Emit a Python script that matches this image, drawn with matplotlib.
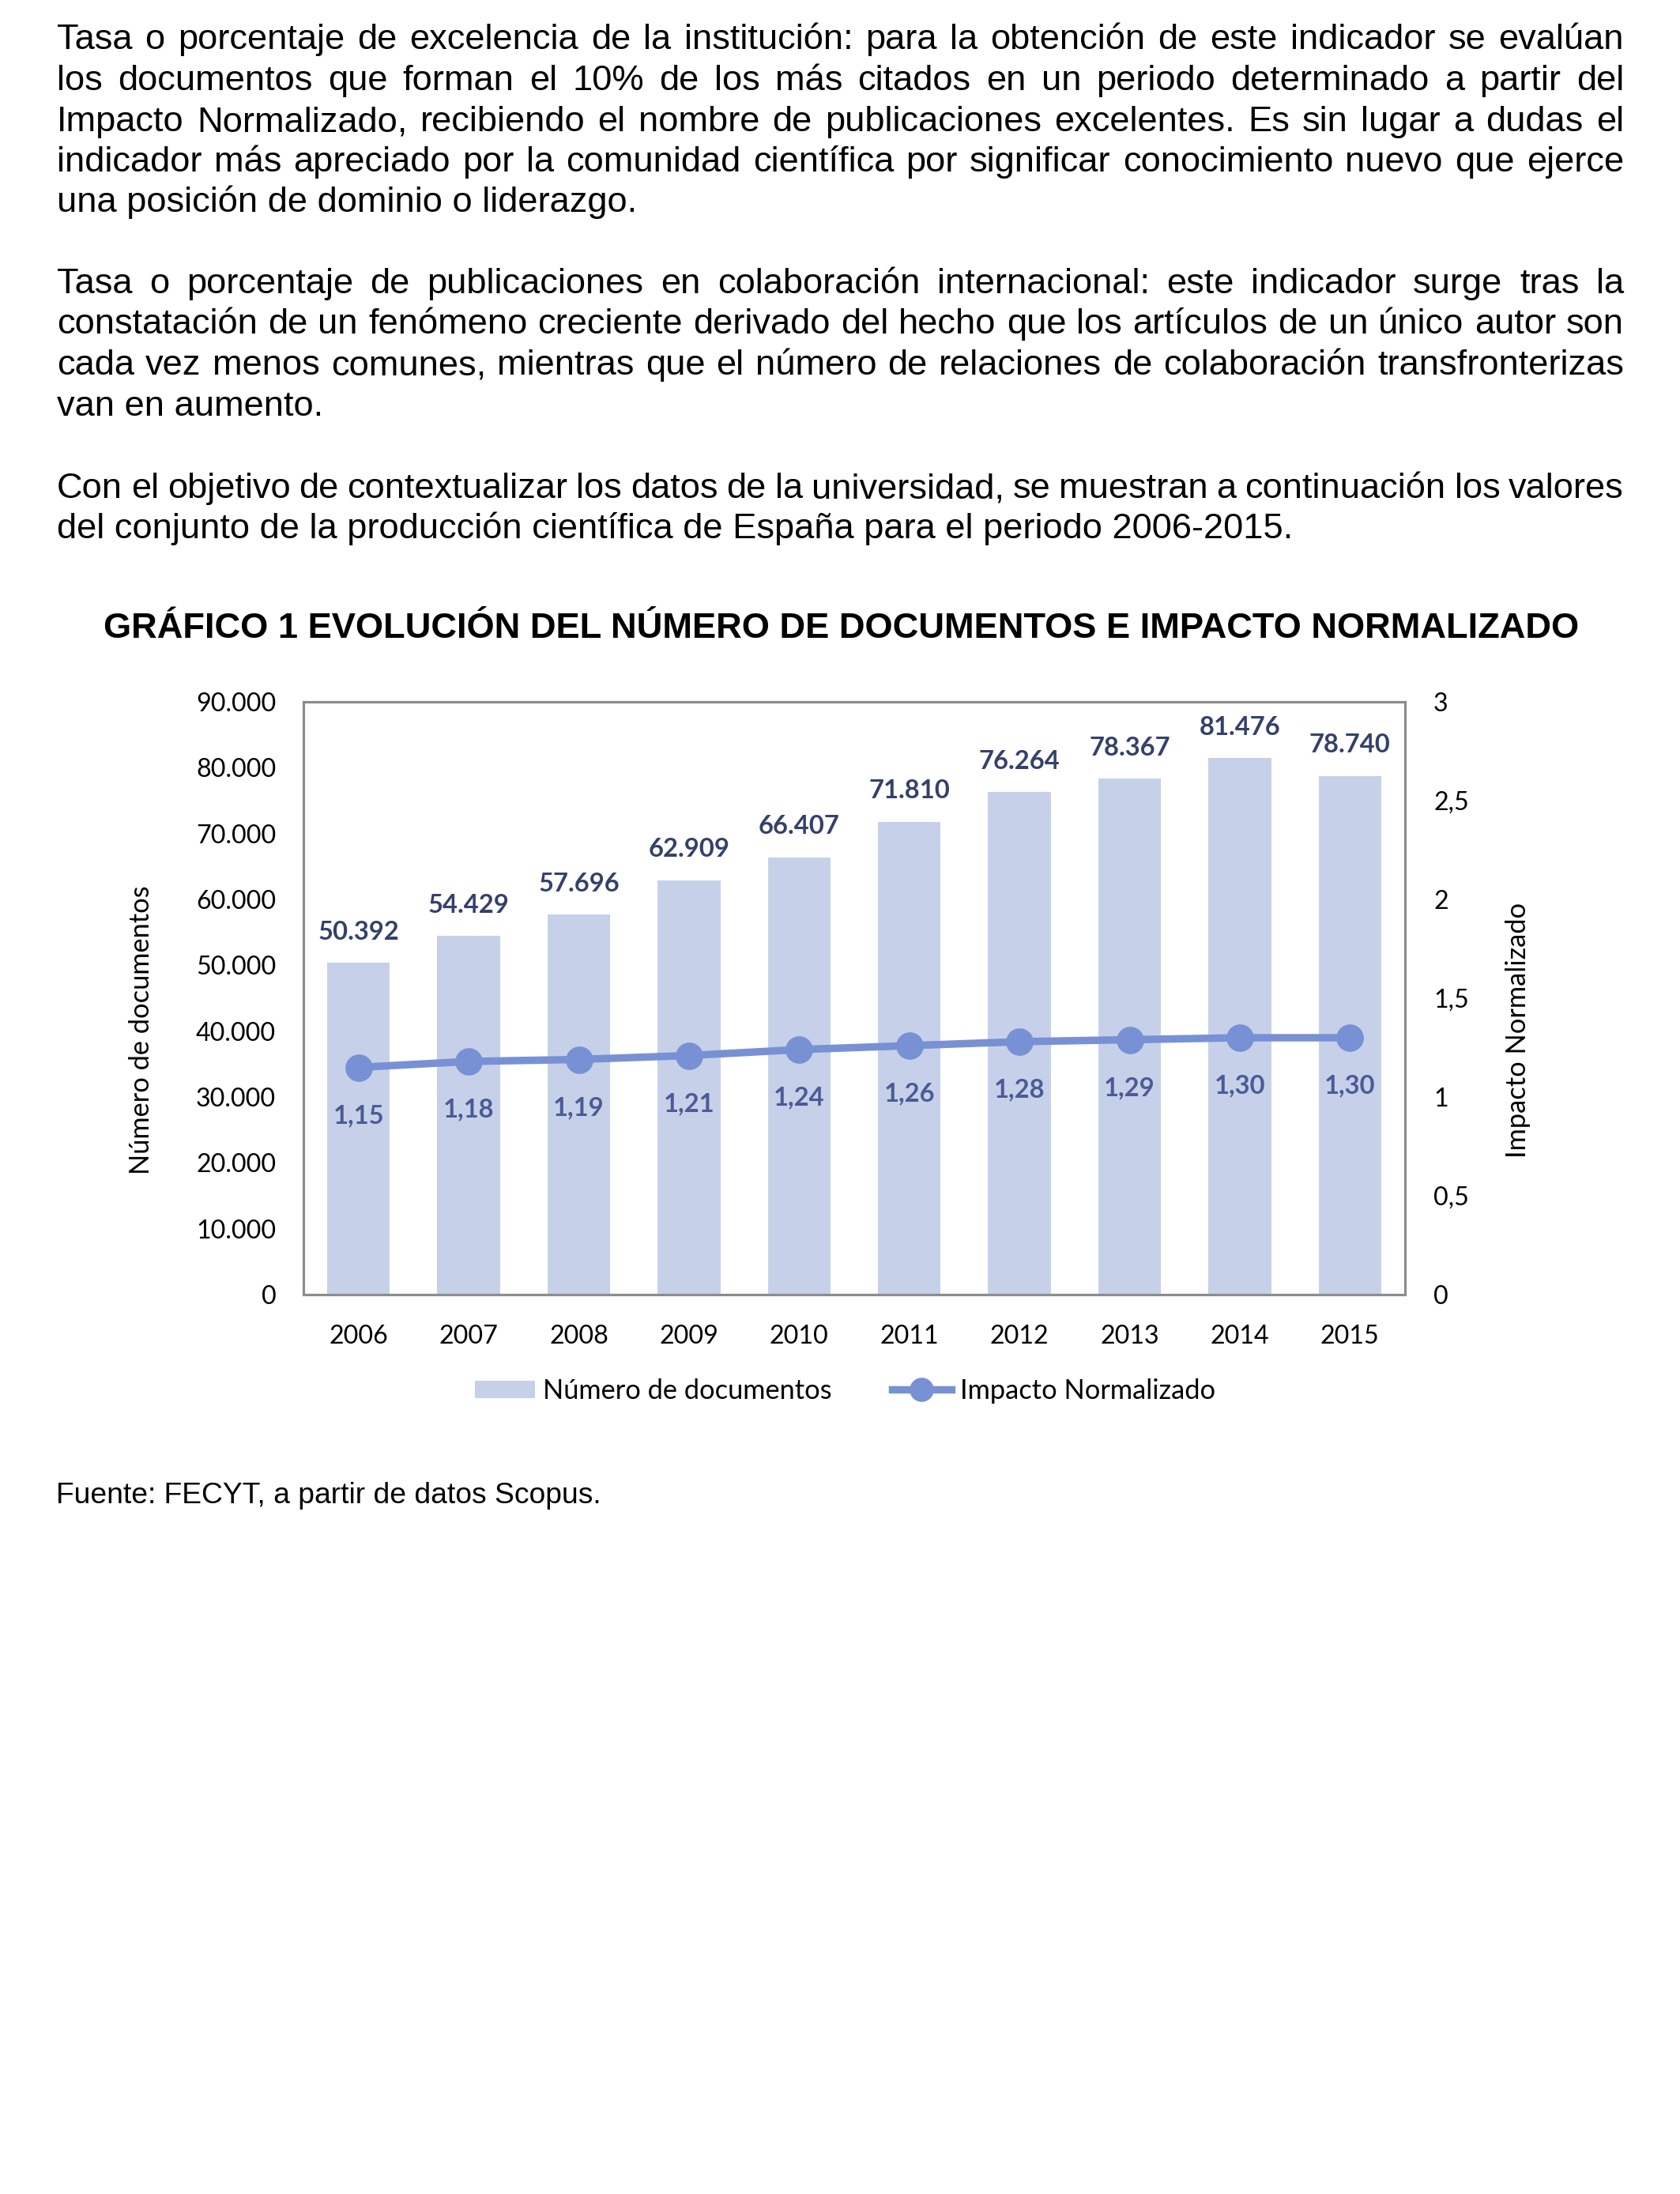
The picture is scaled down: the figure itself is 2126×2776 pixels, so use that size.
import numpy as np
import matplotlib
matplotlib.use("Agg")
import matplotlib.pyplot as plt
from matplotlib.lines import Line2D
from matplotlib.patches import Patch
from matplotlib.ticker import FixedLocator, FuncFormatter

# ---------------------------------------------------------------------------
# Data
# ---------------------------------------------------------------------------
years = ["2006", "2007", "2008", "2009", "2010", "2011", "2012", "2013", "2014", "2015"]
n_documentos = [50392, 54429, 57696, 62909, 66407, 71810, 76264, 78367, 81476, 78740]
impacto = [1.15, 1.18, 1.19, 1.21, 1.24, 1.26, 1.28, 1.29, 1.30, 1.30]

left_ticks = [0, 10000, 20000, 30000, 40000, 50000, 60000, 70000, 80000, 90000]
right_ticks = [0, 0.5, 1, 1.5, 2, 2.5, 3]

paragraphs = [
    ["Tasa o porcentaje de excelencia de la institución: para la obtención de este indicador se evalúan",
     "los documentos que forman el 10% de los más citados en un periodo determinado a partir del",
     "Impacto Normalizado, recibiendo el nombre de publicaciones excelentes. Es sin lugar a dudas el",
     "indicador más apreciado por la comunidad científica por significar conocimiento nuevo que ejerce",
     "una posición de dominio o liderazgo."],
    ["Tasa o porcentaje de publicaciones en colaboración internacional: este indicador surge tras la",
     "constatación de un fenómeno creciente derivado del hecho que los artículos de un único autor son",
     "cada vez menos comunes, mientras que el número de relaciones de colaboración transfronterizas",
     "van en aumento."],
    ["Con el objetivo de contextualizar los datos de la universidad, se muestran a continuación los valores",
     "del conjunto de la producción científica de España para el periodo 2006-2015."],
]
title = "GRÁFICO 1 EVOLUCIÓN DEL NÚMERO DE DOCUMENTOS E IMPACTO NORMALIZADO"
source = "Fuente: FECYT, a partir de datos Scopus."

# ---------------------------------------------------------------------------
# Styling
# ---------------------------------------------------------------------------
W, H, DPI = 2126, 2776, 200
BAR_COLOR = "#C6D1E9"
LINE_COLOR = "#7891D4"
BAR_LABEL_COLOR = "#34416A"
LINE_LABEL_COLOR = "#4B5B95"
FRAME_COLOR = "#8C8C8C"
BODY_FONT = "Liberation Sans"
CHART_FONT = "Lato"
BODY_SIZE = 16.3

fig = plt.figure(figsize=(W / DPI, H / DPI), dpi=DPI)
renderer = fig.canvas.get_renderer()


def px_x(x):
    return x / W


def px_y(y):
    return 1 - y / H


def text_width(s, **kw):
    t = fig.text(0, 0, s, **kw)
    w = t.get_window_extent(renderer).width
    t.remove()
    return w


def justified_line(line, x0, x1, y, last=False, **kw):
    if last:
        fig.text(px_x(x0), px_y(y), line, va="baseline", ha="left", **kw)
        return
    words = line.split(" ")
    widths = [text_width(w, **kw) for w in words]
    gap = (x1 - x0 - sum(widths)) / (len(words) - 1)
    x = x0
    for w, wd in zip(words, widths):
        fig.text(px_x(x), px_y(y), w, va="baseline", ha="left", **kw)
        x += wd + gap


# body text
para_baselines = [[62, 114, 166, 217, 268], [371, 422, 474, 526], [630, 681]]
for lines, ys in zip(paragraphs, para_baselines):
    for i, (line, y) in enumerate(zip(lines, ys)):
        justified_line(line, 72, 2055, y, last=(i == len(lines) - 1),
                       family=BODY_FONT, fontsize=BODY_SIZE, color="black")

fig.text(0.5005, px_y(807), title, ha="center", va="baseline",
         family=BODY_FONT, fontsize=16.3, fontweight="bold", color="black")

fig.text(px_x(71), px_y(1902), source, ha="left", va="baseline",
         family=BODY_FONT, fontsize=13.4, color="black")

# ---------------------------------------------------------------------------
# Chart
# ---------------------------------------------------------------------------
ax_l, ax_r, ax_t, ax_b = 384, 1778, 888, 1638
ax = fig.add_axes([px_x(ax_l), px_y(ax_b), (ax_r - ax_l) / W, (ax_b - ax_t) / H])
ax2 = ax.twinx()

x = np.arange(len(years))
ax.bar(x, n_documentos, width=0.57, color=BAR_COLOR, zorder=2)
ax.set_xlim(-0.5, len(years) - 0.5)
ax.set_ylim(0, 90000)
ax.yaxis.set_major_locator(FixedLocator(left_ticks))
ax.yaxis.set_major_formatter(FuncFormatter(lambda v, p: f"{int(v):,}".replace(",", ".")))
ax.set_xticks(x)
ax.set_xticklabels(years)

ax2.plot(x, impacto, color=LINE_COLOR, lw=3.4, marker="o", ms=11.5,
         solid_capstyle="round", zorder=3)
ax2.set_ylim(0, 3)
ax2.yaxis.set_major_locator(FixedLocator(right_ticks))
ax2.yaxis.set_major_formatter(FuncFormatter(lambda v, p: f"{v:g}".replace(".", ",")))

for a in (ax, ax2):
    for s in a.spines.values():
        s.set_color(FRAME_COLOR)
        s.set_linewidth(1.1)
    a.tick_params(length=0, labelsize=11.6, labelcolor="black")
    for lab in a.get_xticklabels() + a.get_yticklabels():
        lab.set_family(CHART_FONT)
ax.tick_params(axis="y", pad=12.5)
ax.tick_params(axis="x", pad=13.5)
ax2.tick_params(axis="y", pad=13)

for xi, v in zip(x, n_documentos):
    ax.annotate(f"{v:,}".replace(",", "."), (xi, v), xytext=(0, 14),
                textcoords="offset points", ha="center", va="center",
                family=CHART_FONT, fontsize=11.8, fontweight="bold",
                color=BAR_LABEL_COLOR)

for xi, v in zip(x, impacto):
    ax2.annotate(f"{v:.2f}".replace(".", ","), (xi, v), xytext=(0, -22),
                 textcoords="offset points", ha="center", va="center",
                 family=CHART_FONT, fontsize=11.8, fontweight="bold",
                 color=LINE_LABEL_COLOR)

label_y = 0.5 - 40 / (ax_b - ax_t)
ax.set_ylabel("Número de documentos", family=CHART_FONT, fontsize=12.4)
ax.yaxis.set_label_coords((195 - ax_l) / (ax_r - ax_l), label_y)
ax2.set_ylabel("Impacto Normalizado", family=CHART_FONT, fontsize=12.4)
ax2.yaxis.set_label_coords((1905 - ax_l) / (ax_r - ax_l), label_y)

handles = [Patch(facecolor=BAR_COLOR, edgecolor="none"),
           Line2D([], [], color=LINE_COLOR, lw=3.4, marker="o", ms=10)]
fig.legend(handles, ["Número de documentos", "Impacto Normalizado"],
           loc="center", bbox_to_anchor=(0.503, px_y(1760)), ncol=2,
           frameon=False, prop={"family": CHART_FONT, "size": 12.4},
           handlelength=2.2, handletextpad=0.3, columnspacing=2.2,
           handleheight=0.6)

fig.savefig("out.png", dpi=DPI)
